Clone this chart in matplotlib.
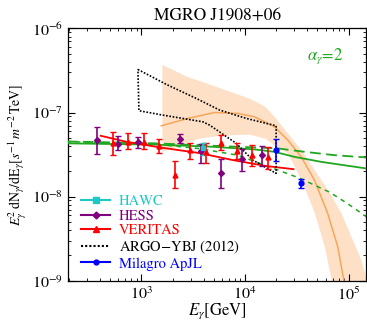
import numpy as np
import matplotlib
matplotlib.use("Agg")
import matplotlib.pyplot as plt
from matplotlib.lines import Line2D
from matplotlib.ticker import NullFormatter, FixedLocator

plt.rcParams['font.family'] = ['STIXGeneral', 'DejaVu Serif']
plt.rcParams['mathtext.fontset'] = 'stix'

# --- data (E in GeV) ---
hess_E = [377, 590, 921, 2340, 3730, 5890, 9340, 14700]
hess_F = [4.70e-8, 4.27e-8, 4.45e-8, 4.90e-8, 3.47e-8, 1.93e-8, 2.77e-8, 3.09e-8]
hess_hi = [6.70e-8, 5.24e-8, 5.09e-8, 5.61e-8, 4.21e-8, 2.81e-8, 3.67e-8, 4.02e-8]
hess_lo = [3.20e-8, 3.57e-8, 3.78e-8, 4.32e-8, 2.54e-8, 1.25e-8, 2.01e-8, 2.32e-8]

ver_E = [532, 747, 1057, 1486, 2109, 2970, 4240, 5920, 8430, 11760, 16800]
ver_F = [4.30e-8, 4.51e-8, 4.48e-8, 3.98e-8, 1.83e-8, 3.57e-8, 3.38e-8, 4.36e-8, 3.51e-8, 3.09e-8, 2.92e-8]
ver_hi = [5.90e-8, 5.74e-8, 5.65e-8, 4.79e-8, 2.67e-8, 4.33e-8, 4.30e-8, 5.43e-8, 4.30e-8, 4.09e-8, 3.91e-8]
ver_lo = [3.11e-8, 3.67e-8, 3.70e-8, 3.32e-8, 1.26e-8, 2.81e-8, 2.52e-8, 3.60e-8, 2.79e-8, 2.32e-8, 2.12e-8]

hawc_E = [3960]
hawc_F = [3.78e-8]
hawc_hi = [4.39e-8]
hawc_lo = [3.11e-8]

mil_E = [20000, 35100]
mil_F = [3.57e-8, 1.46e-8]
mil_hi = [4.79e-8, 1.64e-8]
mil_lo = [2.67e-8, 1.25e-8]

# ARGO-YBJ butterfly outline
argo_E = [927, 1742, 3390, 5690, 10300, 20000, 20000, 11900, 8240, 4560, 3930, 1616, 948, 927]
argo_F = [3.25e-7, 2.16e-7, 1.47e-7, 1.07e-7, 8.51e-8, 6.95e-8, 1.89e-8, 2.72e-8, 4.30e-8,
          7.08e-8, 7.75e-8, 9.31e-8, 1.05e-7, 3.25e-7]

# VERITAS fit line
vfit_E = [405, 717, 1501, 3650, 7640, 16000, 29400]
vfit_F = [5.29e-8, 4.49e-8, 3.85e-8, 3.29e-8, 2.72e-8, 2.31e-8, 2.12e-8]

# orange model band and central line
band_E = [1580, 2800, 3650, 5900, 11000, 15500, 19300, 25900, 34900, 46900, 58600, 68400,
          84900, 132000, 149000]
band_hi = [3.73e-7, 2.66e-7, 2.39e-7, 1.94e-7, 1.48e-7, 1.19e-7, 8.89e-8, 5.64e-8, 3.57e-8,
           2.07e-8, 1.37e-8, 1.01e-8, 6.31e-9, 1.76e-9, 1.02e-9]
band_lo = [3.43e-8, 4.49e-8, 4.97e-8, 5.39e-8, 5.53e-8, 4.97e-8, 4.09e-8, 3.29e-8, 1.57e-8,
           6.37e-9, 2.51e-9, 9.9e-10, 1e-10, 1e-10, 1e-10]
orange_E = [1560, 2812, 5094, 8550, 12380, 19290, 25910, 34890, 46900, 62900, 78700, 89900, 94400]
orange_F = [6.95e-8, 8.51e-8, 1.00e-7, 9.75e-8, 8.89e-8, 6.76e-8, 4.70e-8, 2.97e-8, 1.57e-8,
            6.31e-9, 2.53e-9, 1.02e-9, 6.7e-10]

# green model curves (alpha=2)
gsolid_E = [190, 1343, 4560, 12380, 19290, 30060, 54400, 148900]
gsolid_F = [4.30e-8, 4.15e-8, 3.93e-8, 3.64e-8, 3.41e-8, 2.97e-8, 2.59e-8, 2.16e-8]
gdash_E = [190, 1343, 4560, 15460, 20750, 37580, 73160, 148900]
gdash_F = [4.53e-8, 4.30e-8, 4.04e-8, 3.80e-8, 3.74e-8, 3.41e-8, 3.11e-8, 2.92e-8]
gdash2_E = [190, 1343, 3645, 8490, 19720, 33640, 65500, 97500, 148900]
gdash2_F = [4.51e-8, 4.21e-8, 3.72e-8, 3.11e-8, 2.12e-8, 1.66e-8, 1.13e-8, 8.29e-9, 5.75e-9]

x_ticks = [1e3, 1e4, 1e5]
y_ticks = [1e-9, 1e-8, 1e-7, 1e-6]

green = '#1fa81f'
orange = '#f7a65a'
peach = '#fde0c6'
purple = '#800080'
cyan = '#1fc8c8'

fig = plt.figure(figsize=(3.67, 3.21), dpi=100)
ax = fig.add_axes([0.1853, 0.1255, 0.8125, 0.786])

ax.fill_between(band_E, band_lo, band_hi, color=peach, lw=0, zorder=1)
ax.plot(orange_E, orange_F, color=orange, lw=1.1, zorder=2)

ax.plot(gsolid_E, gsolid_F, color=green, lw=1.3, zorder=3)
ax.plot(gdash_E, gdash_F, color=green, lw=1.3, ls=(0, (6, 3)), zorder=3)
ax.plot(gdash2_E, gdash2_F, color=green, lw=1.1, ls=(0, (3, 3)), zorder=3)

ax.plot(vfit_E, vfit_F, color='red', lw=1.3, zorder=4)
ax.plot(argo_E, argo_F, color='black', lw=1.2, ls=(0, (1, 1)), zorder=5)

def errs(F, lo, hi):
    F = np.array(F)
    return [F - np.array(lo), np.array(hi) - F]

eb = dict(capsize=2, elinewidth=1.2, capthick=1.0, ls='none', zorder=6)
ax.errorbar(hess_E, hess_F, yerr=errs(hess_F, hess_lo, hess_hi), color=purple,
            marker='D', ms=3, **eb)
ax.errorbar(ver_E, ver_F, yerr=errs(ver_F, ver_lo, ver_hi), color='red',
            marker='^', ms=3.5, **eb)
ax.errorbar(hawc_E, hawc_F, yerr=errs(hawc_F, hawc_lo, hawc_hi), color=cyan,
            marker='s', ms=3.5, **eb)
ax.errorbar(mil_E, mil_F, yerr=errs(mil_F, mil_lo, mil_hi), color='blue',
            marker='o', ms=3.5, **eb)

ax.set_xscale('log')
ax.set_yscale('log')
ax.set_xlim(196, 1.48e5)
ax.set_ylim(1e-9, 1e-6)
ax.xaxis.set_major_locator(FixedLocator(x_ticks))
ax.yaxis.set_major_locator(FixedLocator(y_ticks))
ax.xaxis.set_minor_formatter(NullFormatter())
ax.yaxis.set_minor_formatter(NullFormatter())

ax.tick_params(which='both', direction='in', top=True, right=True, labelsize=11.5)
ax.tick_params(which='major', length=5)
ax.tick_params(which='minor', length=2.5)
for s in ax.spines.values():
    s.set_linewidth(0.9)

ax.set_title('MGRO J1908+06', fontsize=12.5, pad=6)
ax.set_xlabel(r'$E_\gamma$[GeV]', fontsize=12, labelpad=-1)
ax.set_ylabel(r'$E_\gamma^2\,$dN$_\gamma$/dE$_\gamma$[$s^{-1}\,m^{-2}\,$TeV]', fontsize=10, labelpad=2)

ax.text(0.80, 0.89, r'$\alpha_\gamma$=2', color=green, fontsize=12,
        transform=ax.transAxes, va='center')

# legend
handles = [
    Line2D([], [], color=cyan, marker='s', ms=5),
    Line2D([], [], color=purple, marker='D', ms=3.5),
    Line2D([], [], color='red', marker='^', ms=5),
    Line2D([], [], color='black', ls=(0, (1, 1))),
    Line2D([], [], color='blue', marker='o', ms=3.5),
]
labels = ['HAWC', 'HESS', 'VERITAS', 'ARGO$-$YBJ (2012)', 'Milagro ApJL']
leg = ax.legend(handles, labels, loc='lower left', bbox_to_anchor=(0.01, 0.0),
                frameon=False, fontsize=10.5, handlelength=2.0, handletextpad=0.6,
                labelspacing=0.08, borderaxespad=0.3)
for t, c in zip(leg.get_texts(), [cyan, purple, 'red', 'black', 'blue']):
    t.set_color(c)

fig.savefig('out.png', dpi=100)
